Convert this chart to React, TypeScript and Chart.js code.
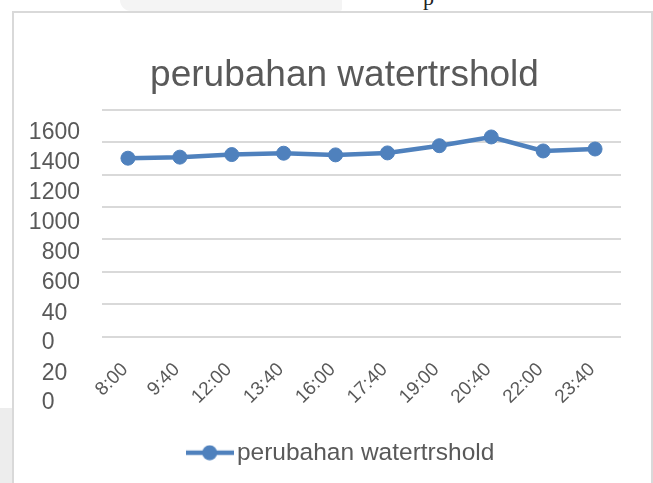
import React, { useEffect, useRef } from "react";
import { Chart, registerables } from "chart.js";

Chart.register(...registerables);

const TITLE = "perubahan watertrshold";
const SERIES_NAME = "perubahan watertrshold";
const categories = ["8:00", "9:40", "12:00", "13:40", "16:00", "17:40", "19:00", "20:40", "22:00", "23:40"];
const values = [1416, 1423, 1440, 1449, 1438, 1451, 1499, 1557, 1464, 1477];
const yTickValues = [200, 400, 600, 800, 1000, 1200, 1400, 1600];
// Excel wrapped "400" and "200" onto two lines in the original picture
const yTickLabels: Record<number, string | string[]> = {
  1600: "1600",
  1400: "1400",
  1200: "1200",
  1000: "1000",
  800: "800",
  600: "600",
  400: ["", "40  ", "0    "],
  200: ["", "", "", "20  ", "0    "],
};
const gridIntervals = 7;

const FONT = "'Liberation Sans', Arial, sans-serif";
const TEXT = "#595959";
const BLUE = "#4F81BD";
const GRID = "#d9d9d9";
const CANVAS_W = 670;
const CANVAS_H = 483;

function makeLegendMarker(color: string) {
  const c = document.createElement("canvas");
  c.width = 48;
  c.height = 16;
  const ctx = c.getContext("2d")!;
  ctx.strokeStyle = color;
  ctx.lineWidth = 4.5;
  ctx.beginPath();
  ctx.moveTo(0, 8);
  ctx.lineTo(48, 8);
  ctx.stroke();
  ctx.fillStyle = color;
  ctx.beginPath();
  ctx.arc(24, 8, 7.5, 0, Math.PI * 2);
  ctx.fill();
  return c;
}

export default function App() {
  const ref = useRef<HTMLCanvasElement | null>(null);

  useEffect(() => {
    if (!ref.current) return;
    const marker = makeLegendMarker(BLUE);
    const chart = new Chart(ref.current, {
      type: "line",
      data: {
        labels: categories,
        datasets: [
          {
            label: SERIES_NAME,
            data: values,
            yAxisID: "yLab",
            borderColor: BLUE,
            backgroundColor: BLUE,
            borderWidth: 4.5,
            pointRadius: 7,
            pointBorderWidth: 1,
            pointBackgroundColor: BLUE,
            pointBorderColor: BLUE,
            tension: 0,
            fill: false,
          },
        ],
      },
      options: {
        animation: false,
        responsive: false,
        devicePixelRatio: 1,
        layout: { padding: { left: 20, right: 1, top: 0, bottom: 8 } },
        plugins: {
          title: {
            display: true,
            text: TITLE,
            color: TEXT,
            font: { size: 37, family: FONT, weight: "normal" },
            padding: { top: 53.8, bottom: 11.8 },
          },
          legend: {
            position: "bottom",
            labels: {
              usePointStyle: true,
              pointStyleWidth: 30,
              color: TEXT,
              font: { size: 24.5, family: FONT },
              padding: 10,
              generateLabels: (ch: any) => {
                const items = (Chart.defaults.plugins.legend.labels as any).generateLabels(ch);
                items.forEach((it: any) => {
                  it.pointStyle = marker;
                });
                return items;
              },
            },
          },
          tooltip: { enabled: false },
        },
        scales: {
          x: {
            type: "category",
            offset: true,
            grid: { display: false, drawTicks: false },
            border: { display: false },
            ticks: {
              autoSkip: false,
              minRotation: 45,
              maxRotation: 45,
              color: TEXT,
              font: { size: 19, family: FONT },
              padding: 22,
              labelOffset: -3,
            },
            afterFit: (s: any) => {
              s.height = 94;
            },
          },
          yLab: {
            type: "linear",
            position: "left",
            min: 232,
            max: 1736,
            grid: { display: false, drawTicks: false },
            border: { display: false },
            afterBuildTicks: (s: any) => {
              s.ticks = yTickValues.map((v) => ({ value: v }));
            },
            ticks: {
              autoSkip: false,
              padding: 22,
              labelOffset: 2,
              color: TEXT,
              font: { size: 23, family: FONT, lineHeight: 1.3 },
              callback: (v: any) => yTickLabels[Number(v)] ?? String(v),
            },
            afterFit: (s: any) => {
              s.width = 82;
            },
          },
          yGrid: {
            type: "linear",
            position: "right",
            min: 0,
            max: gridIntervals,
            ticks: { display: false, stepSize: 1 },
            grid: { color: GRID, lineWidth: 2, drawTicks: false },
            border: { display: false },
            afterFit: (s: any) => {
              s.width = 48;
            },
          },
        },
      } as any,
    });
    return () => chart.destroy();
  }, []);

  return (
    <div style={{ position: "fixed", left: 0, top: 0, width: 653, height: 483, overflow: "hidden", background: "#fff" }}>
      <div
        style={{
          position: "absolute",
          left: 120,
          top: 0,
          width: 222,
          height: 11,
          background: "#f4f4f4",
          borderBottomLeftRadius: 30,
          borderBottomRightRadius: 6,
        }}
      />
      <div style={{ position: "absolute", left: 0, top: 408, width: 12, height: 80, background: "#ededed" }} />
      <span
        style={{
          position: "absolute",
          left: 423,
          top: -13,
          fontFamily: "'Liberation Serif', 'Times New Roman', serif",
          fontSize: 22,
          lineHeight: 1,
          color: "#222",
        }}
      >
        p
      </span>
      <canvas
        ref={ref}
        width={CANVAS_W}
        height={CANVAS_H}
        style={{ position: "absolute", left: 0, top: 0, width: CANVAS_W, height: CANVAS_H }}
      />
      <div
        style={{
          position: "absolute",
          left: 12,
          top: 11,
          width: 641,
          height: 490,
          boxSizing: "border-box",
          border: "2px solid #d9d9d9",
          pointerEvents: "none",
        }}
      />
    </div>
  );
}
